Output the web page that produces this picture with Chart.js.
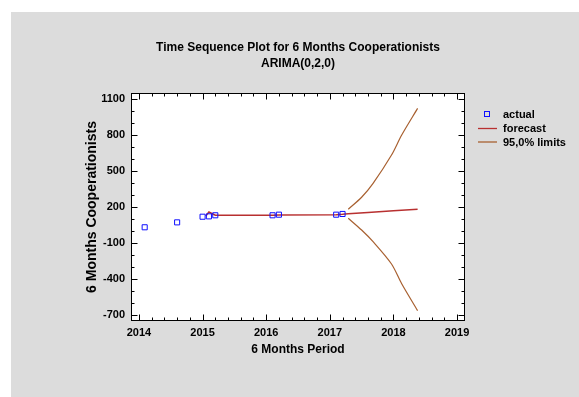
<!DOCTYPE html>
<html>
<head>
<meta charset="utf-8">
<script src="https://cdn.jsdelivr.net/npm/chart.js@4.4.0/dist/chart.umd.min.js"></script>
<style>
  html, body { margin: 0; padding: 0; background: #fff; }
  #wrap { width: 579px; height: 397px; }
</style>
</head>
<body>
<div id="wrap"><canvas id="arimaChart" width="579" height="397"></canvas></div>
<script>
// valores
const actualYears = [2014.09, 2014.6, 2015.0, 2015.1, 2015.2, 2016.1, 2016.2, 2017.1, 2017.2];
const actualValues = [31, 72, 119, 122, 131, 131, 136, 136, 142];

const forecastYears = [2015.05, 2015.1, 2015.2, 2016.1, 2016.2, 2017.1, 2017.2, 2017.29, 2017.6, 2018.0, 2018.38];
const forecastValues = [125, 158, 131, 131, 134, 136, 139, 143, 155, 168, 181];

const limitYears = [2017.29, 2017.5, 2017.68, 2017.97, 2018.13, 2018.38];
const upperValues = [181, 281, 397, 633, 800, 1022];
const lowerValues = [106, 8, -89, -275, -440, -664];

const xTicks = [2014, 2015, 2016, 2017, 2018, 2019];
const yTicks = [-700, -400, -100, 200, 500, 800, 1100];

const FONTE = '"Liberation Sans", Arial, sans-serif';

const pares = (xs, ys) => xs.map((x, i) => ({ x, y: ys[i] }));

const fundo = {
  id: "fundo",
  beforeDraw(chart) {
    const { ctx, chartArea: a } = chart;
    ctx.save();
    ctx.fillStyle = "#fff";
    ctx.fillRect(0, 0, chart.width, chart.height);
    ctx.fillStyle = "#dcdcdc";
    ctx.fillRect(11, 12, chart.width - 11, chart.height - 12);
    ctx.fillStyle = "#fff";
    ctx.fillRect(a.left, a.top, a.right - a.left, a.bottom - a.top);
    ctx.restore();
  },
};

const moldura = {
  id: "moldura",
  afterDatasetsDraw(chart) {
    const { ctx, chartArea: a, scales } = chart;
    const { x, y } = scales;
    const L = Math.round(a.left) + 0.5, R = Math.round(a.right) - 0.5;
    const T = Math.round(a.top) + 0.5, B = Math.round(a.bottom) - 0.5;
    ctx.save();
    ctx.strokeStyle = "#000";
    ctx.lineWidth = 1;
    ctx.beginPath();
    // ticks x (para dentro, em cima e em baixo)
    for (let v = 2014; v <= 2019.01; v += 0.2) {
      const px = Math.round(x.getPixelForValue(v)) + 0.5;
      const major = Math.abs(v - Math.round(v)) < 0.01;
      const len = major ? 6 : 3;
      ctx.moveTo(px, B); ctx.lineTo(px, B - len);
      ctx.moveTo(px, T); ctx.lineTo(px, T + len);
    }
    // ticks y
    for (let v = -700; v <= 1100; v += 100) {
      const py = Math.round(y.getPixelForValue(v)) + 0.5;
      const major = yTicks.includes(v);
      const len = major ? 6 : 3;
      ctx.moveTo(L, py); ctx.lineTo(L + len, py);
      ctx.moveTo(R, py); ctx.lineTo(R - len, py);
    }
    ctx.stroke();
    ctx.strokeRect(L, T, R - L, B - T);
    ctx.restore();
  },
};

const titulo = {
  id: "titulo",
  afterDraw(chart) {
    const { ctx, chartArea: a } = chart;
    const cx = (a.left + a.right) / 2;
    ctx.save();
    ctx.fillStyle = "#000";
    ctx.font = "bold 12px " + FONTE;
    ctx.textAlign = "center";
    ctx.textBaseline = "middle";
    ctx.fillText("Time Sequence Plot for 6 Months Cooperationists", cx, 48);
    ctx.fillText("ARIMA(0,2,0)", cx, 64);
    ctx.restore();
  },
};

const legenda = {
  id: "legenda",
  afterDraw(chart) {
    const { ctx, chartArea: a } = chart;
    const x0 = a.right;
    ctx.save();
    ctx.font = "bold 11px " + FONTE;
    ctx.textBaseline = "middle";
    ctx.fillStyle = "#000";
    // actual
    ctx.strokeStyle = "#1010ff";
    ctx.lineWidth = 1;
    ctx.strokeRect(x0 + 19.5, 111.5, 5, 5);
    ctx.fillText("actual", x0 + 38, 115);
    // forecast
    ctx.strokeStyle = "#b83030";
    ctx.lineWidth = 1.3;
    ctx.beginPath(); ctx.moveTo(x0 + 13, 128.5); ctx.lineTo(x0 + 32, 128.5); ctx.stroke();
    ctx.fillText("forecast", x0 + 38, 129);
    // limits
    ctx.strokeStyle = "#a86030";
    ctx.beginPath(); ctx.moveTo(x0 + 13, 142); ctx.lineTo(x0 + 32, 142); ctx.stroke();
    ctx.fillText("95,0% limits", x0 + 38, 143);
    ctx.restore();
  },
};

document.addEventListener("DOMContentLoaded", function () {
  const ctx = document.getElementById("arimaChart").getContext("2d");

  new Chart(ctx, {
    type: "scatter",
    data: {
      datasets: [
        {
          label: "actual",
          data: pares(actualYears, actualValues),
          pointStyle: "rect",
          pointRadius: 3.6,
          borderColor: "#1010ff",
          backgroundColor: "rgba(255,255,255,0)",
          borderWidth: 1,
          showLine: false,
        },
        {
          label: "forecast",
          data: pares(forecastYears, forecastValues),
          showLine: true,
          borderColor: "#b83030",
          borderWidth: 1.5,
          pointRadius: 0,
        },
        {
          label: "upper",
          data: pares(limitYears, upperValues),
          showLine: true,
          borderColor: "#a86030",
          borderWidth: 1.2,
          pointRadius: 0,
          tension: 0.3,
        },
        {
          label: "lower",
          data: pares(limitYears, lowerValues),
          showLine: true,
          borderColor: "#a86030",
          borderWidth: 1.2,
          pointRadius: 0,
          tension: 0.3,
        },
      ],
    },
    options: {
      responsive: false,
      animation: false,
      devicePixelRatio: 1,
      layout: { padding: { top: 93, right: 114, left: 0, bottom: 0 } },
      plugins: {
        legend: { display: false },
        title: { display: false },
        tooltip: { enabled: false },
      },
      scales: {
        x: {
          type: "linear",
          min: 2013.875,
          max: 2019.125,
          afterBuildTicks: (s) => { s.ticks = xTicks.map((v) => ({ value: v })); },
          afterFit: (s) => { s.height = 76; },
          grid: { display: false, drawTicks: false },
          border: { display: false },
          ticks: {
            padding: 5,
            color: "#000",
            maxRotation: 0,
            autoSkip: false,
            font: { family: FONTE, size: 11, weight: "bold" },
            callback: (v) => String(v),
          },
          title: {
            display: true,
            text: "6 Months Period",
            color: "#000",
            font: { family: FONTE, size: 12, weight: "bold" },
            padding: { top: 0, bottom: 40 },
          },
        },
        y: {
          type: "linear",
          min: -750,
          max: 1150,
          afterBuildTicks: (s) => { s.ticks = yTicks.map((v) => ({ value: v })); },
          afterFit: (s) => { s.width = 131; },
          grid: { display: false, drawTicks: false },
          border: { display: false },
          ticks: {
            padding: 6,
            color: "#000",
            autoSkip: false,
            font: { family: FONTE, size: 11, weight: "bold" },
            callback: (v) => String(v),
          },
          title: {
            display: true,
            text: "6 Months Cooperationists",
            color: "#000",
            font: { family: FONTE, size: 14, weight: "bold" },
            padding: { top: 84, bottom: 0 },
          },
        },
      },
    },
    plugins: [fundo, moldura, titulo, legenda],
  });
});
</script>
</body>
</html>
